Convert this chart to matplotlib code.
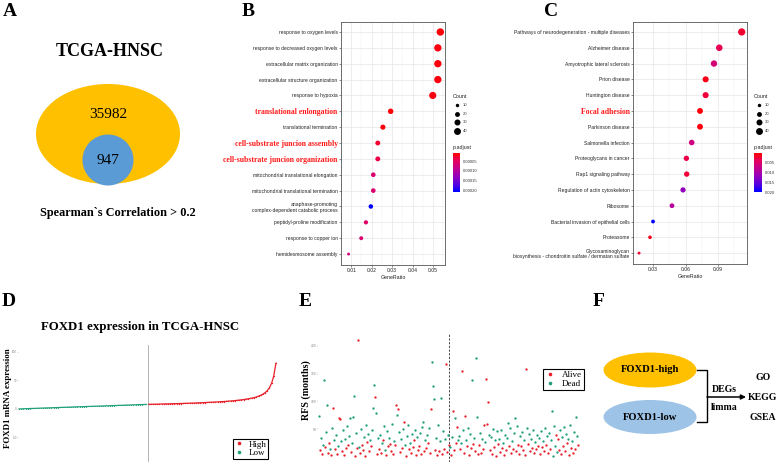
import matplotlib
matplotlib.use('Agg')
import matplotlib.pyplot as plt
from matplotlib.patches import Ellipse, Circle
from matplotlib.colors import LinearSegmentedColormap, Normalize
from matplotlib.cm import ScalarMappable
from matplotlib.lines import Line2D
import numpy as np

# ---------------- data ----------------
venn_total = "35982"
venn_sub = "947"

go_terms = ["response to oxygen levels", "response to decreased oxygen levels",
            "extracellular matrix organization", "extracellular structure organization",
            "response to hypoxia", "translational enlongation", "translational termination",
            "cell-substrate juncion assembly", "cell-substrate juncion organization",
            "mitochondrial translational elongation", "mitochondrial translational termination",
            "anaphase-promoting\ncomplex-dependent catabolic process",
            "peptidyl-proline modification", "response to copper ion", "hemidesmosome assembly"]
go_ratio = [0.0536, 0.0524, 0.0524, 0.0524, 0.0499, 0.0293, 0.0255, 0.0230, 0.0230,
            0.0208, 0.0208, 0.0196, 0.0172, 0.0149, 0.0087]
go_count = [46, 45, 45, 45, 43, 25, 22, 20, 20, 18, 18, 17, 15, 13, 7]
go_padj = [0.000012, 0.000015, 0.000014, 0.000014, 0.000017, 0.000010, 0.000014,
           0.000028, 0.000037, 0.000063, 0.000063, 0.000210, 0.000057, 0.000063, 0.000069]
go_highlight = ["translational enlongation", "cell-substrate juncion assembly",
                "cell-substrate juncion organization"]

kegg_terms = ["Pathways of neurodegeneration - multiple diseases", "Alzheimer disease",
              "Amyotrophic lateral sclerosis", "Prion disease", "Huntington disease",
              "Focal adhesion", "Parkinson disease", "Salmonella infection",
              "Proteoglycans in cancer", "Rap1 signaling pathway",
              "Regulation of actin cytoskeleton", "Ribosome",
              "Bacterial invasion of epithelial cells", "Proteasome",
              "Glycosaminoglycan\nbiosynthesis - chondroitin sulfate / dermatan sulfate"]
kegg_ratio = [0.1119, 0.0912, 0.0863, 0.0786, 0.0786, 0.0734, 0.0734, 0.0657, 0.0608,
              0.0611, 0.0577, 0.0475, 0.0300, 0.0272, 0.0171]
kegg_count = [44, 36, 34, 31, 31, 29, 29, 26, 24, 24, 23, 19, 12, 11, 7]
kegg_padj = [0.0025, 0.0040, 0.0063, 0.0015, 0.0028, 0.0009, 0.0011, 0.0070, 0.0034,
             0.0028, 0.0122, 0.0093, 0.0200, 0.0019, 0.0025]
kegg_highlight = ["Focal adhesion"]

count_legend = [10, 20, 30, 40]
go_pticks = [0.00005, 0.00010, 0.00015, 0.00020]
go_plim = [0.0000083, 0.00021]
kegg_pticks = [0.005, 0.010, 0.015, 0.020]
kegg_plim = [0.0005, 0.0200]

# sorted FOXD1 expression (low group, high group)
expr_low = [0.0, 0.1, 0.3, 0.4, 0.5, 0.7, 0.8, 0.9, 1.1, 1.2, 1.4, 1.5, 1.6, 1.8, 1.9,
            2.0, 2.2, 2.3, 2.4, 2.6, 2.7, 2.8, 3.0, 3.1, 3.2, 3.4, 3.5, 3.6, 3.8, 3.9,
            4.0, 4.2, 4.3, 4.4, 4.6, 4.7, 4.8, 5.0, 5.1, 5.2, 5.4, 5.5, 5.6, 5.8, 5.9,
            6.0, 6.2, 6.3, 6.4, 6.6, 6.7, 6.8, 7.0, 7.1, 7.2, 7.4, 7.5, 7.6, 7.8, 7.9]
expr_high = [8.0, 8.1, 8.2, 8.3, 8.4, 8.5, 8.6, 8.7, 8.8, 8.9,
             9.0, 9.1, 9.2, 9.3, 9.4, 9.5, 9.6, 9.8, 9.9, 10.0,
             10.2, 10.3, 10.5, 10.6, 10.8, 11.0, 11.1, 11.3, 11.5, 11.7,
             11.9, 12.1, 12.3, 12.5, 12.8, 13.0, 13.3, 13.6, 13.9, 14.2,
             14.6, 15.0, 15.4, 15.9, 16.4, 17.0, 17.6, 18.3, 19.1, 20.0,
             21.0, 22.5, 24.0, 26.0, 28.5, 32.0, 37.0, 45.0, 58.0, 80.0]
expr_yticks = [-50, 0, 50, 100]

# RFS (months) per patient, ordered by FOXD1 expression; status a = Alive, d = Dead
rfs = [74, 12, 35, 5, 22, 138, 18, 45, 94, 8, 25, 15, 3, 52, 88, 30, 14, 40, 6, 20,
       70, 68, 28, 10, 48, 4, 33, 16, 55, 22, 38, 70, 9, 26, 72, 110, 2, 44, 17, 210,
       18, 7, 50, 21, 13, 36, 1, 58, 27, 42, 11, 30, 19, 48, 88, 130, 108, 80, 6, 34,
       15, 40, 8, 25, 30, 55, 12, 3, 47, 19, 35, 24, 11, 60, 5, 28, 22, 94, 76, 86,
       45, 9, 32, 16, 50, 63, 22, 2, 38, 57, 14, 26, 7, 42, 18, 30, 48, 4, 36, 12,
       20, 44, 6, 54, 63, 10, 30, 17, 40, 25, 52, 8, 86, 171, 128, 104, 13, 35, 3, 58,
       11, 28, 106, 5, 46, 15, 33, 167, 9, 40, 22, 18, 4, 36, 83, 12, 70, 26, 54, 30,
       38, 14, 25, 155, 48, 7, 74, 30, 19, 52, 3, 42, 16, 139, 23, 35, 10, 178, 72, 6,
       21, 44, 8, 33, 15, 58, 27, 140, 59, 99, 40, 12, 36, 5, 50, 18, 30, 2, 46, 24,
       32, 9, 48, 17, 26, 4, 40, 13, 35, 61, 20, 52, 7, 28, 15, 44, 70, 11, 56, 22,
       6, 38, 19, 45, 12, 30, 3, 158, 52, 24, 42, 10, 33, 16, 48, 8, 27, 14, 40, 20,
       35, 5, 46, 18, 28, 11, 52, 22, 38, 7, 44, 15, 30, 83, 2, 56, 19, 40, 9, 32,
       13, 48, 6, 36, 20, 54, 10, 42, 25, 33, 4, 58, 17, 29, 8, 45, 14, 72, 38, 21]
status = ("dadaddaddaadadadadad"
          "aadadadadaddadddadaa"
          "dadaadadadadadddadad"
          "adadaddadadaadadaada"
          "dadadadaddadadaadada"
          "adaddadadadaadddadad"
          "addadadaadadadaadaad"
          "dadadaadadadadadadda"
          "adadaadaaadadadadada"
          "dadadadaddadadaddada"
          "adadadaadadadadadada"
          "dadadadadadadddddada"
          "adadadadadadadadadda")
rfs_yticks = [50, 100, 150, 200]

# ---------------- style ----------------
W, H = 778, 462
SERIF = 'Liberation Serif'
SANS = 'Liberation Sans'
RED = '#E8202A'
GREEN = '#1FA07A'
ORANGE = '#FFC000'
BLUE_A = '#5B9BD5'
BLUE_F = '#9DC3E6'

plt.rcParams['font.family'] = [SANS, 'DejaVu Sans']
fig = plt.figure(figsize=(W / 100, H / 100), dpi=100)
fig.patch.set_facecolor('white')


def px_axes(x0, y0, x1, y1):
    return fig.add_axes([x0 / W, 1 - y1 / H, (x1 - x0) / W, (y1 - y0) / H])


cmap = LinearSegmentedColormap.from_list(
    'rb', ['#FF0000', '#E6005F', '#C2008F', '#9100BC', '#5700E0', '#0000FF'])
SIZE_K = 0.62


def dotplot(box, terms, ratio, count, padj, plim, highlight, xticks, xlim, minor):
    ax = px_axes(*box)
    norm = Normalize(*plim)
    n = len(terms)
    y = np.arange(n)[::-1]
    ax.scatter(ratio, y, s=np.array(count) * SIZE_K, c=padj, cmap=cmap, norm=norm,
               linewidths=0, zorder=3)
    ax.set_xlim(*xlim)
    ax.set_ylim(-0.69, n - 1 + 0.63)
    ax.set_yticks(y)
    ax.set_yticklabels(terms)
    ax.set_xticks(xticks)
    ax.set_xticklabels([f"{t:g}" for t in xticks])
    ax.set_xticks(minor, minor=True)
    ax.grid(True, which='major', color='#e6e6e6', lw=0.5, zorder=0)
    ax.grid(True, which='minor', axis='x', color='#f2f2f2', lw=0.35, zorder=0)
    ax.set_axisbelow(True)
    for s in ax.spines.values():
        s.set_color('#555555')
        s.set_linewidth(0.6)
    ax.tick_params(axis='both', labelsize=3.6, length=1.2, width=0.4, pad=1.2,
                   colors='#333333', labelcolor='#222222')
    ax.tick_params(axis='x', which='minor', length=0)
    for lab in ax.get_yticklabels():
        lab.set_linespacing(1.15)
        if lab.get_text() in highlight:
            lab.set_color('#FF1A1A')
            lab.set_fontfamily(SERIF)
            lab.set_fontweight('bold')
            lab.set_fontsize(5.6)
    ax.set_xlabel('GeneRatio', fontsize=3.8, labelpad=1.0, color='#222222')
    return ax, norm


axB, normB = dotplot((341, 22, 445, 265), go_terms, go_ratio, go_count, go_padj, go_plim,
                     go_highlight, [0.01, 0.02, 0.03, 0.04, 0.05], (0.0061, 0.0559),
                     [0.005, 0.015, 0.025, 0.035, 0.045, 0.055])
axC, normC = dotplot((633, 22, 747, 264), kegg_terms, kegg_ratio, kegg_count, kegg_padj,
                     kegg_plim, kegg_highlight, [0.03, 0.06, 0.09], (0.0115, 0.1168),
                     [0.015, 0.045, 0.075, 0.105])


def colorbar(box, norm, ticks, fmt):
    cax = px_axes(*box)
    cb = fig.colorbar(ScalarMappable(norm=norm, cmap=cmap), cax=cax)
    cax.invert_yaxis()
    cb.set_ticks(ticks)
    cb.set_ticklabels([fmt.format(t) for t in ticks])
    cb.outline.set_visible(False)
    cax.tick_params(labelsize=3.0, length=1.2, width=0.3, color='white', pad=1.2,
                    labelcolor='#333333')


colorbar((453, 153, 460, 192), normB, go_pticks, "{:.5f}")
colorbar((754, 153, 762, 192), normC, kegg_pticks, "{:.3f}")

# ---------------- panel D ----------------
axD = px_axes(18, 345, 277, 462)
n_low, n_high = len(expr_low), len(expr_high)
xl = np.arange(n_low)
xh = np.arange(n_low, n_low + n_high)
axD.plot(xl, expr_low, color=GREEN, lw=0.9, marker='o', ms=0.8, mew=0)
axD.plot(xh, expr_high, color=RED, lw=0.9, marker='o', ms=1.0, mew=0)
axD.axvline(n_low - 0.5, color='#555555', lw=0.6, ls=(0, (1.2, 1.2)))
axD.set_xlim(-0.5, n_low + n_high - 0.5)
axD.set_ylim(-93, 112)
axD.set_xticks([])
axD.set_yticks(expr_yticks)
axD.set_yticklabels([str(t) for t in expr_yticks])
axD.tick_params(axis='y', labelsize=2.2, length=0.6, width=0.3, pad=0.3,
                colors='#888888', labelcolor='#888888')
for s in axD.spines.values():
    s.set_visible(False)
axD.patch.set_alpha(0)
legD = axD.legend(handles=[Line2D([], [], marker='o', ls='', color=RED, ms=1.6, label='High'),
                           Line2D([], [], marker='o', ls='', color=GREEN, ms=1.6, label='Low')],
                  loc='upper left', bbox_to_anchor=(0.831, 0.197), borderaxespad=0,
                  prop={'family': SERIF, 'size': 6.5}, fancybox=False, edgecolor='black',
                  framealpha=1, borderpad=0.15, handletextpad=0.6, labelspacing=0.05,
                  handlelength=1.0)
legD.get_frame().set_linewidth(0.8)

# ---------------- panel E ----------------
axE = px_axes(318, 333, 584, 462)
idx = np.arange(len(rfs))
rfs_arr = np.array(rfs, dtype=float)
st = np.array(list(status))
axE.scatter(idx[st == 'a'], rfs_arr[st == 'a'], s=2.8, color=RED, linewidths=0, zorder=3)
axE.scatter(idx[st == 'd'], rfs_arr[st == 'd'], s=2.8, color=GREEN, linewidths=0, zorder=3)
axE.axvline((len(rfs) - 1) / 2, color='#444444', lw=0.7, ls=(0, (2.2, 1.6)))
axE.set_xlim(-1, len(rfs) + 5)
axE.set_ylim(-9, 223)
axE.set_xticks([])
axE.set_yticks(rfs_yticks)
axE.set_yticklabels([str(t) for t in rfs_yticks])
axE.tick_params(axis='y', labelsize=2.4, length=0.8, width=0.3, pad=0.5,
                colors='#888888', labelcolor='#888888')
for s in axE.spines.values():
    s.set_visible(False)
axE.patch.set_alpha(0)
legE = axE.legend(handles=[Line2D([], [], marker='o', ls='', color=RED, ms=1.6, label='Alive'),
                           Line2D([], [], marker='o', ls='', color=GREEN, ms=1.6, label='Dead')],
                  loc='upper right', bbox_to_anchor=(1.0, 0.721), borderaxespad=0,
                  prop={'family': SERIF, 'size': 6.5}, fancybox=False, edgecolor='black',
                  framealpha=1, borderpad=0.2, handletextpad=0.9, labelspacing=0.05,
                  handlelength=1.0)
legE.get_frame().set_linewidth(0.8)

# ---------------- overlay (panels A, F, labels, legends) ----------------
ov = fig.add_axes([0, 0, 1, 1])
ov.set_xlim(0, W)
ov.set_ylim(H, 0)
ov.axis('off')
ov.patch.set_alpha(0)

bold_serif = dict(family=SERIF, weight='bold')

# panel letters
for letter, (x, y) in zip("ABCDEF", [(10, 12), (248, 11), (551, 11), (9, 301), (305, 302), (599, 301)]):
    ov.text(x, y, letter, ha='center', va='center', fontsize=14, color='black', **bold_serif)

# panel A
ov.text(110, 51, "TCGA-HNSC", ha='center', va='center', fontsize=13, **bold_serif)
ov.add_patch(Ellipse((108, 134), 144, 100, color=ORANGE, lw=0))
ov.add_patch(Circle((108, 160), 25.5, color=BLUE_A, lw=0))
ov.text(108, 114, venn_total, ha='center', va='center', fontsize=11, family=SERIF)
ov.text(108, 161, venn_sub, ha='center', va='center', fontsize=11, family=SERIF)
ov.text(118, 213, "Spearman`s Correlation > 0.2", ha='center', va='center', fontsize=8.8,
        **bold_serif)

# dot-plot size legends and colorbar titles
for tx, ty, dx in [(453, 97, 457), (754, 97, 759)]:
    ov.text(tx, ty, "Count", ha='left', va='center', fontsize=3.9, color='#222222')
    for k, c in enumerate(count_legend):
        yy = 105 + k * 8.6
        ov.scatter([dx], [yy], s=c * SIZE_K, color='black', linewidths=0)
        ov.text(dx + 6, yy, str(c), ha='left', va='center', fontsize=3.0, color='#333333')
    ov.text(tx, 148, "p.adjust", ha='left', va='center', fontsize=3.9, color='#222222')

# panel D title and labels
ov.text(140, 327, "FOXD1 expression in TCGA-HNSC", ha='center', va='center', fontsize=9.3,
        **bold_serif)
ov.text(8, 398, "FOXD1 mRNA expression", ha='center', va='center', rotation=90,
        fontsize=6.4, **bold_serif)
ov.text(306, 390, "RFS (months)", ha='center', va='center', rotation=90, fontsize=7.2,
        **bold_serif)

# panel F
ov.add_patch(Ellipse((650, 370), 93, 35, color=ORANGE, lw=0))
ov.add_patch(Ellipse((650, 417), 93, 34, color=BLUE_F, lw=0))
ov.text(650, 370, "FOXD1-high", ha='center', va='center', fontsize=7.6, **bold_serif)
ov.text(650, 417, "FOXD1-low", ha='center', va='center', fontsize=7.6, **bold_serif)
ov.plot([697, 707, 707, 697], [370, 370, 422, 422], color='black', lw=1.0,
        solid_joinstyle='miter')
ov.annotate('', xy=(746, 397), xytext=(707, 397),
            arrowprops=dict(arrowstyle='-|>', color='black', lw=1.1, mutation_scale=7,
                            shrinkA=0, shrinkB=0))
ov.text(724, 389, "DEGs", ha='center', va='center', fontsize=7.0, **bold_serif)
ov.text(724, 407, "limma", ha='center', va='center', fontsize=7.0, **bold_serif)
for lab, yy in zip(["GO", "KEGG", "GSEA"], [378, 397, 417]):
    ov.text(763, yy, lab, ha='center', va='center', fontsize=7.0, **bold_serif)

fig.savefig('out.png', dpi=100, facecolor='white')
